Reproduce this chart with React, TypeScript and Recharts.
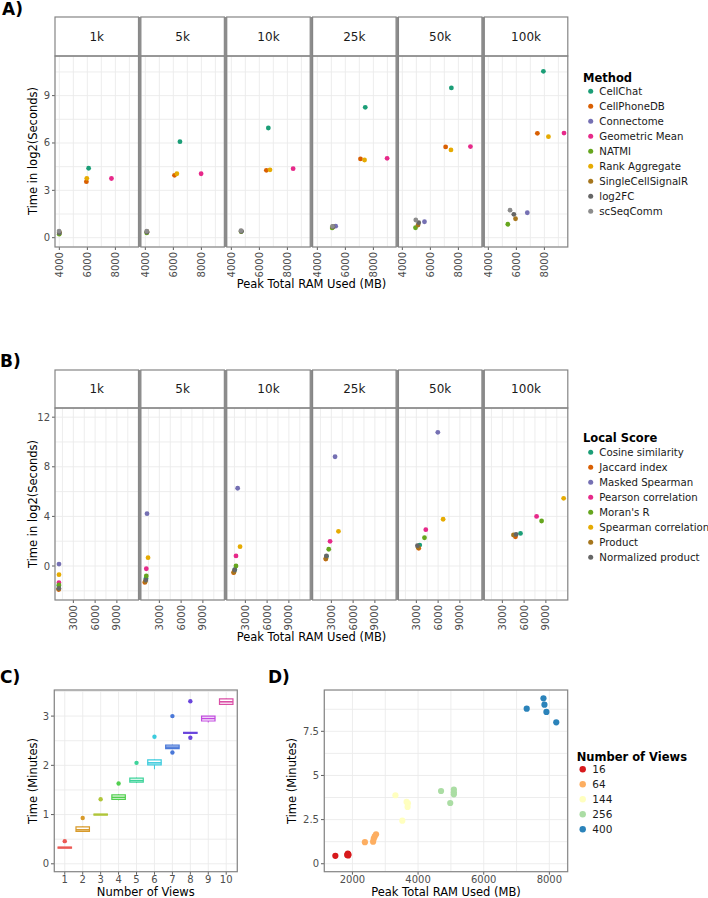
import React from 'react';
import {
  ScatterChart,
  ComposedChart,
  Scatter,
  XAxis,
  YAxis,
  CartesianGrid,
  ReferenceArea,
  ReferenceLine,
} from 'recharts';

const FONT = "'DejaVu Sans', Verdana, sans-serif";
const TICK_COLOR = '#4D4D4D';
const BORDER = '#858585';
const GRID = '#EBEBEB';
const TICK_FS = 10;

// ---- Panel A: methods ----
const facetLabels = ['1k', '5k', '10k', '25k', '50k', '100k'];

const methodNames = [
  'CellChat',
  'CellPhoneDB',
  'Connectome',
  'Geometric Mean',
  'NATMI',
  'Rank Aggregate',
  'SingleCellSignalR',
  'log2FC',
  'scSeqComm',
];
const methodColors = [
  '#1B9E77',
  '#D95F02',
  '#7570B3',
  '#E7298A',
  '#66A61E',
  '#E6AB02',
  '#A6761D',
  '#666666',
  '#8C8C8C',
];
// peak RAM (MB), one value per facet
const methodRam = [
  [6090, 6470, 6640, 7420, 7500, 7930],
  [5930, 6080, 6500, 7080, 7090, 7500],
  [3990, 4120, 4720, 5310, 5580, 6780],
  [7720, 7980, 8410, 8980, 8860, 9400],
  [3990, 4100, 4700, 5060, 4940, 5390],
  [5960, 6250, 6760, 7370, 7470, 8290],
  [4000, 4120, 4700, 5100, 5120, 5940],
  [4000, 4110, 4710, 5120, 5170, 5820],
  [3980, 4100, 4690, 5080, 4960, 5550],
];
// time in log2(seconds), one value per facet
const methodTime = [
  [4.4, 6.08, 6.95, 8.26, 9.49, 10.54],
  [3.55, 3.95, 4.27, 4.99, 5.75, 6.61],
  [0.3, 0.35, 0.4, 0.73, 1.01, 1.58],
  [3.75, 4.05, 4.37, 5.03, 5.77, 6.63],
  [0.22, 0.3, 0.38, 0.62, 0.63, 0.85],
  [3.76, 4.05, 4.3, 4.92, 5.56, 6.4],
  [0.35, 0.38, 0.42, 0.68, 0.8, 1.2],
  [0.3, 0.36, 0.4, 0.7, 0.95, 1.48],
  [0.42, 0.42, 0.45, 0.72, 1.12, 1.74],
];

// ---- Panel B: local scores ----
const scoreNames = [
  'Cosine similarity',
  'Jaccard index',
  'Masked Spearman',
  'Pearson correlation',
  "Moran's R",
  'Spearman correlation',
  'Product',
  'Normalized product',
];
const scoreColors = [
  '#1B9E77',
  '#D95F02',
  '#7570B3',
  '#E7298A',
  '#66A61E',
  '#E6AB02',
  '#A6761D',
  '#666666',
];
const scoreRam = [
  [1000, 1150, 1550, 2330, 3470, 5500],
  [980, 1000, 1380, 2230, 3330, 4810],
  [1020, 1300, 1940, 3510, 5960, null],
  [1010, 1200, 1710, 2820, 4300, 7720],
  [1010, 1200, 1710, 2640, 4120, 8410],
  [1020, 1440, 2270, 3980, 6690, 11450],
  [990, 1060, 1420, 2250, 3250, 4530],
  [1000, 1130, 1520, 2320, 3150, 4890],
];
const scoreTime = [
  [-1.6, -1.0, -0.3, 0.78, 1.69, 2.63],
  [-1.9, -1.32, -0.54, 0.56, 1.43, 2.36],
  [0.16, 4.22, 6.27, 8.81, 10.78, null],
  [-1.35, -0.22, 0.81, 1.99, 2.93, 4.0],
  [-1.53, -0.8, 0.0, 1.35, 2.28, 3.63],
  [-0.7, 0.67, 1.56, 2.8, 3.77, 5.46],
  [-1.85, -1.25, -0.5, 0.6, 1.5, 2.5],
  [-1.8, -1.13, -0.32, 0.81, 1.64, 2.55],
];

// ---- Panel C: boxplots by number of views ----
const viewNumbers = [1, 2, 3, 4, 5, 6, 7, 8, 9, 10];
const viewColors = [
  '#EC5A55',
  '#D89A2A',
  '#B0C53A',
  '#52CF4F',
  '#3DD39A',
  '#3CCBDD',
  '#4A78D8',
  '#6A45DC',
  '#C24ADF',
  '#DA4FA6',
];
const boxQ1 = [0.32, 0.66, 0.99, 1.31, 1.66, 2.01, 2.34, 2.65, 2.9, 3.24];
const boxMedian = [0.33, 0.69, 1.0, 1.35, 1.69, 2.05, 2.37, 2.66, 2.95, 3.29];
const boxQ3 = [0.34, 0.75, 1.01, 1.4, 1.74, 2.11, 2.41, 2.67, 3.0, 3.35];
const whiskerLow = [0.32, 0.66, 0.99, 1.29, 1.64, 1.92, 2.33, 2.65, 2.87, 3.23];
const whiskerHigh = [0.34, 0.76, 1.01, 1.41, 1.75, 2.12, 2.42, 2.67, 3.0, 3.36];
const boxOutliers = [[0.46], [0.93], [1.31], [1.63], [2.05], [2.58], [3.0, 2.26], [3.3, 2.56], [], []];

// ---- Panel D: RAM vs time by number of views ----
const viewGroups = ['16', '64', '144', '256', '400'];
const groupColors = ['#D7191C', '#FDAE61', '#FFFFBF', '#ABDDA4', '#2B83BA'];
const groupRam = [
  [1480, 1840, 1860, 1880, 1870],
  [2380, 2630, 2650, 2680, 2720],
  [3310, 3520, 3650, 3690, 3680],
  [4700, 5090, 5090, 5090, 4980],
  [7310, 7820, 7850, 7910, 8210],
];
const groupTime = [
  [0.45, 0.5, 0.58, 0.52, 0.47],
  [1.22, 1.25, 1.42, 1.55, 1.67],
  [3.88, 2.44, 3.5, 3.42, 3.22],
  [4.12, 4.2, 4.05, 3.93, 3.44],
  [8.78, 9.37, 9.01, 8.6, 8.01],
];

// ---- layout ----
const FACET_X0 = 55;
const FACET_STEP = 85.86;
const FACET_W = 83.5;
const facetLeft = (i: number) => FACET_X0 + i * FACET_STEP;

function XTick(props: any) {
  const { x, y, payload, majors, rotate } = props;
  if (!majors.includes(payload.value)) return <g />;
  const label = String(payload.value);
  return (
    <g>
      <line x1={x} x2={x} y1={y} y2={y + 3} stroke="#333" strokeWidth={0.8} />
      {rotate ? (
        <text
          x={x}
          y={y + 5}
          transform={`rotate(-90 ${x} ${y + 5})`}
          textAnchor="end"
          dominantBaseline="central"
          fontSize={TICK_FS}
          fill={TICK_COLOR}
          fontFamily={FONT}
        >
          {label}
        </text>
      ) : (
        <text
          x={x}
          y={y + 4.5}
          textAnchor="middle"
          dominantBaseline="hanging"
          fontSize={TICK_FS}
          fill={TICK_COLOR}
          fontFamily={FONT}
        >
          {label}
        </text>
      )}
    </g>
  );
}

function YTick(props: any) {
  const { x, y, payload, majors } = props;
  if (!majors.includes(payload.value)) return <g />;
  return (
    <g>
      <line x1={x - 3} x2={x} y1={y} y2={y} stroke="#333" strokeWidth={0.8} />
      <text
        x={x - 5}
        y={y}
        textAnchor="end"
        dominantBaseline="central"
        fontSize={TICK_FS}
        fill={TICK_COLOR}
        fontFamily={FONT}
      >
        {String(payload.value)}
      </text>
    </g>
  );
}

const dot = (color: string, r: number) => (p: any) =>
  <circle cx={p.cx} cy={p.cy} r={r} fill={color} />;

interface FacetRowProps {
  panelTop: number;
  panelH: number;
  xDomain: [number, number];
  xTicks: number[];
  xMajors: number[];
  yDomain: [number, number];
  yTicks: number[];
  yMajors: number[];
  colors: string[];
  ram: (number | null)[][];
  time: (number | null)[][];
}

function FacetRow(props: FacetRowProps) {
  const { panelTop, panelH, xDomain, xTicks, xMajors, yDomain, yTicks, yMajors, colors, ram, time } = props;
  return (
    <>
      {facetLabels.map((label, fi) => {
        const yw = fi === 0 ? 40 : 0;
        return (
          <div key={label} style={{ position: 'absolute', left: facetLeft(fi) - yw, top: panelTop }}>
            <ScatterChart
              width={FACET_W + yw}
              height={panelH + 40}
              margin={{ top: 0, right: 0, bottom: 0, left: 0 }}
            >
              <CartesianGrid stroke={GRID} strokeWidth={0.9} />
              <XAxis
                type="number"
                dataKey="x"
                domain={xDomain}
                ticks={xTicks}
                interval={0}
                allowDataOverflow
                height={40}
                axisLine={false}
                tickLine={false}
                tickSize={0}
                tickMargin={0}
                tick={(p: any) => <XTick {...p} majors={xMajors} rotate />}
              />
              <YAxis
                type="number"
                dataKey="y"
                domain={yDomain}
                ticks={yTicks}
                interval={0}
                allowDataOverflow
                width={yw}
                hide={fi !== 0}
                axisLine={false}
                tickLine={false}
                tickSize={0}
                tickMargin={0}
                tick={(p: any) => <YTick {...p} majors={yMajors} />}
              />
              {colors.map((c, si) => {
                const pts =
                  ram[si][fi] == null ? [] : [{ x: ram[si][fi] as number, y: time[si][fi] as number }];
                return (
                  <Scatter
                    key={si}
                    data={pts}
                    fill={c}
                    shape={dot(c, 2.4)}
                    isAnimationActive={false}
                  />
                );
              })}
            </ScatterChart>
          </div>
        );
      })}
    </>
  );
}

function FacetFrame({ stripTop, panelTop, panelBottom }: { stripTop: number; panelTop: number; panelBottom: number }) {
  return (
    <g>
      {facetLabels.map((label, i) => {
        const x = facetLeft(i);
        return (
          <g key={label}>
            <rect x={x} y={stripTop} width={FACET_W} height={panelTop - stripTop} fill="#fff" stroke={BORDER} strokeWidth={1.2} />
            <text
              x={x + FACET_W / 2}
              y={(stripTop + panelTop) / 2}
              textAnchor="middle"
              dominantBaseline="central"
              fontSize={12}
              fill="#1A1A1A"
              fontFamily={FONT}
            >
              {label}
            </text>
            <rect x={x} y={panelTop} width={FACET_W} height={panelBottom - panelTop} fill="none" stroke={BORDER} strokeWidth={1.2} />
            {i < facetLabels.length - 1 && (
              <rect x={x + FACET_W} y={stripTop} width={FACET_STEP - FACET_W} height={panelBottom - stripTop} fill="#8C8C8C" />
            )}
          </g>
        );
      })}
    </g>
  );
}

function LegendBlock(props: {
  x: number;
  y: number;
  title: string;
  names: string[];
  colors: string[];
  r: number;
  dotDx: number;
  textDx: number;
  firstDy: number;
  fontSize: number;
}) {
  const { x, y, title, names, colors, r, dotDx, textDx, firstDy, fontSize } = props;
  return (
    <g fontFamily={FONT}>
      <text x={x} y={y} fontWeight="bold" fontSize={11.5} dominantBaseline="central" fill="#000">
        {title}
      </text>
      {names.map((n, i) => (
        <g key={n}>
          <circle cx={x + dotDx} cy={y + firstDy + i * 15} r={r} fill={colors[i]} />
          <text x={x + textDx} y={y + firstDy + i * 15} fontSize={fontSize} dominantBaseline="central" fill="#1A1A1A">
            {n}
          </text>
        </g>
      ))}
    </g>
  );
}

function AxisTitle({ x, y, text, vertical }: { x: number; y: number; text: string; vertical?: boolean }) {
  return (
    <text
      x={x}
      y={y}
      transform={vertical ? `rotate(-90 ${x} ${y})` : undefined}
      textAnchor="middle"
      dominantBaseline="central"
      fontSize={11.5}
      fill="#000"
      fontFamily={FONT}
    >
      {text}
    </text>
  );
}

function PanelLabel({ x, y, text }: { x: number; y: number; text: string }) {
  return (
    <text x={x} y={y} fontSize={17} fontWeight="bold" fontFamily={FONT} dominantBaseline="central">
      {text}
    </text>
  );
}

// panel C and D geometry
const C_LEFT = 54.3, C_TOP = 690, C_W = 183, C_H = 181.7;
const D_LEFT = 324.3, D_TOP = 690, D_W = 243.4, D_H = 181.7;

function BoxPanel() {
  const half = 0.375;
  const outlierPts = viewNumbers.flatMap((v, i) =>
    boxOutliers[i].map((t) => ({ x: v, y: t, color: viewColors[i] }))
  );
  return (
    <div style={{ position: 'absolute', left: C_LEFT - 40, top: C_TOP }}>
      <ComposedChart width={C_W + 40} height={C_H + 20} margin={{ top: 0, right: 0, bottom: 0, left: 0 }}>
        <CartesianGrid stroke={GRID} strokeWidth={0.9} />
        <XAxis
          type="number"
          dataKey="x"
          domain={[0.4, 10.6]}
          ticks={viewNumbers}
          interval={0}
          allowDataOverflow
          height={20}
          axisLine={false}
          tickLine={false}
          tickSize={0}
          tickMargin={0}
          tick={(p: any) => <XTick {...p} majors={viewNumbers} />}
        />
        <YAxis
          type="number"
          dataKey="y"
          domain={[-0.16, 3.53]}
          ticks={[0, 0.5, 1, 1.5, 2, 2.5, 3, 3.5]}
          interval={0}
          allowDataOverflow
          width={40}
          axisLine={false}
          tickLine={false}
          tickSize={0}
          tickMargin={0}
          tick={(p: any) => <YTick {...p} majors={[0, 1, 2, 3]} />}
        />
        {viewNumbers.map((v, i) => (
          <ReferenceLine
            key={`wl${v}`}
            segment={[{ x: v, y: whiskerLow[i] }, { x: v, y: boxQ1[i] }]}
            stroke={viewColors[i]}
            strokeWidth={1}
          />
        ))}
        {viewNumbers.map((v, i) => (
          <ReferenceLine
            key={`wh${v}`}
            segment={[{ x: v, y: boxQ3[i] }, { x: v, y: whiskerHigh[i] }]}
            stroke={viewColors[i]}
            strokeWidth={1}
          />
        ))}
        {viewNumbers.map((v, i) => (
          <ReferenceArea
            key={`b${v}`}
            x1={v - half}
            x2={v + half}
            y1={boxQ1[i]}
            y2={boxQ3[i]}
            fill="#fff"
            fillOpacity={1}
            stroke={viewColors[i]}
            strokeWidth={1.2}
          />
        ))}
        {viewNumbers.map((v, i) => (
          <ReferenceLine
            key={`m${v}`}
            segment={[{ x: v - half, y: boxMedian[i] }, { x: v + half, y: boxMedian[i] }]}
            stroke={viewColors[i]}
            strokeWidth={1.6}
          />
        ))}
        <Scatter
          data={outlierPts}
          shape={(p: any) => <circle cx={p.cx} cy={p.cy} r={2.2} fill={p.payload.color} />}
          isAnimationActive={false}
        />
      </ComposedChart>
    </div>
  );
}

function RamPanel() {
  return (
    <div style={{ position: 'absolute', left: D_LEFT - 40, top: D_TOP }}>
      <ScatterChart width={D_W + 40} height={D_H + 20} margin={{ top: 0, right: 0, bottom: 0, left: 0 }}>
        <CartesianGrid stroke={GRID} strokeWidth={0.9} />
        <XAxis
          type="number"
          dataKey="x"
          domain={[1134, 8549]}
          ticks={[2000, 3000, 4000, 5000, 6000, 7000, 8000]}
          interval={0}
          allowDataOverflow
          height={20}
          axisLine={false}
          tickLine={false}
          tickSize={0}
          tickMargin={0}
          tick={(p: any) => <XTick {...p} majors={[2000, 4000, 6000, 8000]} />}
        />
        <YAxis
          type="number"
          dataKey="y"
          domain={[-0.45, 9.84]}
          ticks={[0, 1.25, 2.5, 3.75, 5, 6.25, 7.5, 8.75]}
          interval={0}
          allowDataOverflow
          width={40}
          axisLine={false}
          tickLine={false}
          tickSize={0}
          tickMargin={0}
          tick={(p: any) => <YTick {...p} majors={[0, 2.5, 5, 7.5]} />}
        />
        {viewGroups.map((g, gi) => (
          <Scatter
            key={g}
            data={groupRam[gi].map((r, k) => ({ x: r, y: groupTime[gi][k] }))}
            fill={groupColors[gi]}
            shape={dot(groupColors[gi], 3.1)}
            isAnimationActive={false}
          />
        ))}
      </ScatterChart>
    </div>
  );
}

export default function App() {
  return (
    <div style={{ position: 'absolute', left: 0, top: 0, width: 708, height: 898, background: '#fff', fontFamily: FONT }}>
      <FacetRow
        panelTop={56}
        panelH={191}
        xDomain={[3690, 9650]}
        xTicks={[4000, 5000, 6000, 7000, 8000, 9000]}
        xMajors={[4000, 6000, 8000]}
        yDomain={[-0.59, 11.51]}
        yTicks={[0, 1.5, 3, 4.5, 6, 7.5, 9, 10.5]}
        yMajors={[0, 3, 6, 9]}
        colors={methodColors}
        ram={methodRam}
        time={methodTime}
      />
      <FacetRow
        panelTop={408}
        panelH={192}
        xDomain={[470, 11980]}
        xTicks={[1500, 3000, 4500, 6000, 7500, 9000, 10500]}
        xMajors={[3000, 6000, 9000]}
        yDomain={[-2.74, 12.74]}
        yTicks={[-2, 0, 2, 4, 6, 8, 10, 12]}
        yMajors={[0, 4, 8, 12]}
        colors={scoreColors}
        ram={scoreRam}
        time={scoreTime}
      />
      <BoxPanel />
      <RamPanel />
      <svg
        width={708}
        height={898}
        style={{ position: 'absolute', left: 0, top: 0, pointerEvents: 'none' }}
      >
        <PanelLabel x={2} y={9} text="A)" />
        <PanelLabel x={0} y={361} text="B)" />
        <PanelLabel x={0} y={677} text="C)" />
        <PanelLabel x={268} y={677} text="D)" />

        <FacetFrame stripTop={17} panelTop={56} panelBottom={247} />
        <FacetFrame stripTop={370} panelTop={408} panelBottom={600} />

        <AxisTitle x={33} y={151} text="Time in log2(Seconds)" vertical />
        <AxisTitle x={311.5} y={284} text="Peak Total RAM Used (MB)" />
        <AxisTitle x={33} y={504} text="Time in log2(Seconds)" vertical />
        <AxisTitle x={311.5} y={637} text="Peak Total RAM Used (MB)" />

        <rect x={C_LEFT} y={C_TOP} width={C_W} height={C_H} fill="none" stroke={BORDER} strokeWidth={1.2} />
        <rect x={D_LEFT} y={D_TOP} width={D_W} height={D_H} fill="none" stroke={BORDER} strokeWidth={1.2} />
        <AxisTitle x={33} y={781} text="Time (Minutes)" vertical />
        <AxisTitle x={145.8} y={892} text="Number of Views" />
        <AxisTitle x={292} y={781} text="Time (Minutes)" vertical />
        <AxisTitle x={446} y={892} text="Peak Total RAM Used (MB)" />

        <LegendBlock
          x={583}
          y={78}
          title="Method"
          names={methodNames}
          colors={methodColors}
          r={2.5}
          dotDx={7.7}
          textDx={16.3}
          firstDy={13.3}
          fontSize={10.2}
        />
        <LegendBlock
          x={583}
          y={438.3}
          title="Local Score"
          names={scoreNames}
          colors={scoreColors}
          r={2.5}
          dotDx={7.7}
          textDx={16.3}
          firstDy={14}
          fontSize={10.2}
        />
        <LegendBlock
          x={576.7}
          y={756.7}
          title="Number of Views"
          names={viewGroups}
          colors={groupColors}
          r={3.2}
          dotDx={6}
          textDx={15.6}
          firstDy={12.6}
          fontSize={10.5}
        />
      </svg>
    </div>
  );
}
